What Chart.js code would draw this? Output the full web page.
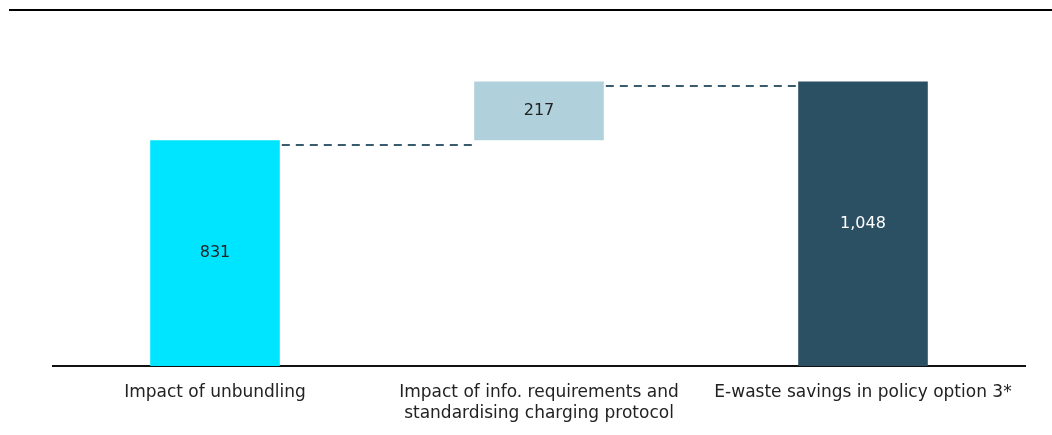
<!DOCTYPE html>
<html>
<head>
<meta charset="utf-8">
<script src="https://cdn.jsdelivr.net/npm/chart.js@4/dist/chart.umd.min.js"></script>
<style>
  html, body { margin: 0; padding: 0; background: #fff; }
  canvas { display: block; }
</style>
</head>
<body>
<canvas id="wf" width="1052" height="435"></canvas>
<script>
var categories = [
    'Impact of unbundling',
    ['Impact of info. requirements and', 'standardising charging protocol'],
    'E-waste savings in policy option 3*'
];
var steps = [831, 217];
var total = 1048;
var valueLabels = ['831', '217', '1,048'];
var barColors = ['#00e5ff', '#b0d1dc', '#2b4f63'];
var labelColors = ['#222222', '#222222', '#ffffff'];

// floating bars: each step starts where the previous one ended
var ranges = [];
var run = 0;
for (var i = 0; i < steps.length; i++) {
    ranges.push([run, run + steps[i]]);
    run += steps[i];
}
ranges.push([0, total]);

var fontName = "'DejaVu Sans', sans-serif";

var waterfallBits = {
    id: 'waterfallBits',
    afterDatasetsDraw: function(chart) {
        var ctx = chart.ctx;
        var meta = chart.getDatasetMeta(0);
        var y = chart.scales.y;
        ctx.save();
        // top rule
        ctx.fillStyle = '#000';
        ctx.fillRect(9, 9, chart.width - 9, 2);
        // dashed connectors between bar tops
        ctx.strokeStyle = '#3a5a6e';
        ctx.lineWidth = 2;
        ctx.setLineDash([8, 6]);
        for (var i = 0; i < meta.data.length - 1; i++) {
            var a = meta.data[i], b = meta.data[i + 1];
            var py = Math.round(y.getPixelForValue(ranges[i][1])) + 5;
            ctx.beginPath();
            ctx.moveTo(a.x + a.width / 2 + 2, py);
            ctx.lineTo(b.x - b.width / 2 - 2, py);
            ctx.stroke();
        }
        ctx.setLineDash([]);
        // value labels in the middle of each bar
        ctx.font = '16px ' + fontName;
        ctx.textAlign = 'center';
        ctx.textBaseline = 'middle';
        meta.data.forEach(function(bar, i) {
            ctx.fillStyle = labelColors[i];
            ctx.fillText(valueLabels[i], bar.x, (bar.y + bar.base) / 2);
        });
        ctx.restore();
    }
};

new Chart(document.getElementById('wf'), {
    type: 'bar',
    data: {
        labels: categories,
        datasets: [{
            data: ranges,
            backgroundColor: barColors,
            borderWidth: 0,
            categoryPercentage: 0.8,
            barPercentage: 0.5
        }]
    },
    options: {
        responsive: false,
        animation: false,
        layout: { padding: { left: 53, right: 27, top: 10, bottom: 0 } },
        plugins: { legend: { display: false }, tooltip: { enabled: false } },
        scales: {
            x: {
                grid: { display: false },
                border: { color: '#111', width: 2 },
                afterFit: function(scale) { scale.height = 69; },
                ticks: {
                    color: '#222',
                    padding: 8,
                    maxRotation: 0,
                    autoSkip: false,
                    font: { family: fontName, size: 17, lineHeight: 1.25 }
                }
            },
            y: {
                display: false,
                min: 0,
                max: 1311
            }
        }
    },
    plugins: [waterfallBits]
});
</script>
</body>
</html>
